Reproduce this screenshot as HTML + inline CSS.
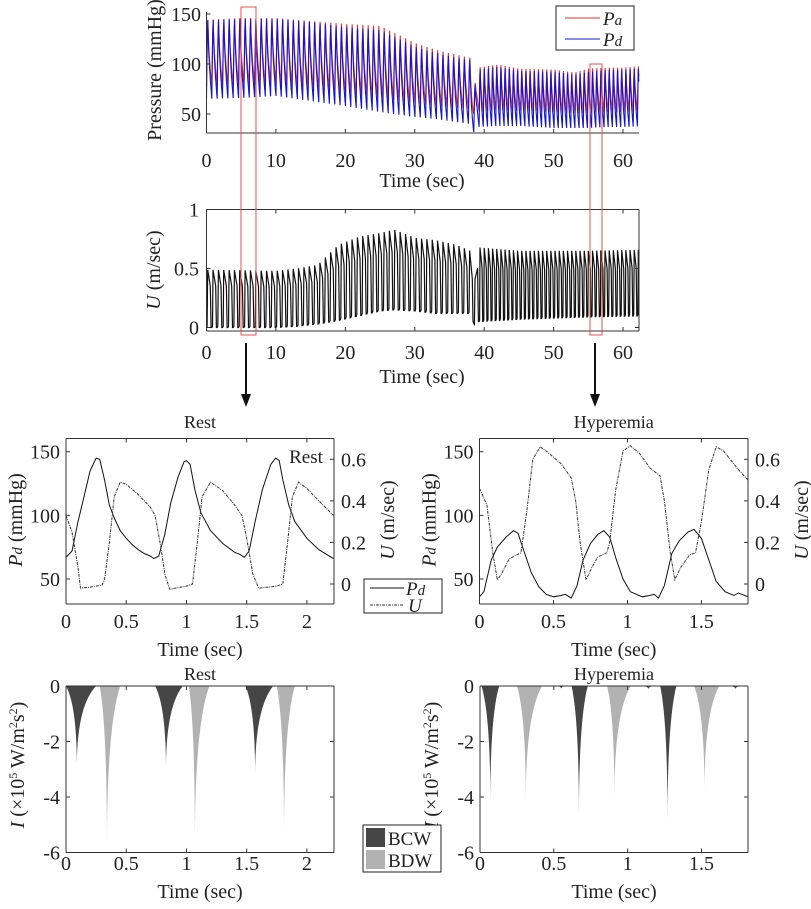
<!DOCTYPE html>
<html><head><meta charset="utf-8"><style>
html,body{margin:0;padding:0;background:#fff}
svg{display:block;font-family:"Liberation Serif",serif}
</style></head><body>
<svg id="fig" width="811" height="909" viewBox="0 0 811 909"></svg>
<script>
// ===== Overview data (envelopes) =====
const envTimes   = [0,5,10,15,20,25,28,30,33,36,38,38.5,39,42,45,50,53,55,58,60,63.5];
const pdPeaks    = [145,146,146,143,138,135,125,118,112,107,105,70,95,98,94,93,90,93,95,95,97];
const pdTroughs  = [65,66,68,63,58,52,49,47,45,42,40,32,37,38,38,36,36,36,37,37,38];
const paPeaks    = [145,147,147,144,141,139,129,122,115,110,107,72,97,100,96,95,92,96,97,97,99];
const paTroughs  = [78,79,80,76,71,66,63,61,58,56,55,50,52,54,53,52,51,51,52,52,53];
const uTimes     = [0,10,13,16,19,22,25,27,30,33,36,38,38.7,39,45,50,55,63.5];
const uPeaks     = [0.49,0.48,0.5,0.53,0.7,0.77,0.8,0.83,0.76,0.74,0.7,0.65,0.4,0.68,0.65,0.65,0.65,0.66];
const uTroughs   = [0.0,0.0,0.01,0.03,0.06,0.1,0.14,0.15,0.14,0.12,0.12,0.12,0.0,0.05,0.07,0.08,0.09,0.1];
const beatPeriods = [0.77,0.6]; // before / after 38.7 s
const overviewTicksX = [0,10,20,30,40,50,60];
const pressureTicks = [50,100,150];
const uOverviewTicks = [0,0.5,1];

// ===== Rest detail =====
const restT  = [0,0.05,0.1,0.15,0.2,0.25,0.28,0.32,0.36,0.4,0.45,0.5,0.55,0.6,0.65,0.7,0.73,0.77,0.82,0.87,0.93,0.98,1.0,1.03,1.07,1.12,1.2,1.3,1.4,1.45,1.48,1.52,1.57,1.63,1.7,1.74,1.77,1.8,1.85,1.9,2.0,2.1,2.22];
const restPd = [67,72,95,115,135,145,144,128,108,98,88,82,77,73,70,68,66,68,85,110,130,142,143,140,120,102,88,78,71,69,67,72,95,120,140,145,143,128,108,95,82,73,66];
const restUT = [0,0.05,0.1,0.12,0.2,0.3,0.32,0.36,0.4,0.45,0.5,0.6,0.7,0.74,0.78,0.82,0.86,1.0,1.05,1.09,1.13,1.2,1.3,1.4,1.46,1.5,1.55,1.6,1.75,1.8,1.84,1.88,1.93,2.0,2.1,2.22];
const restU  = [0.33,0.25,0.08,-0.02,-0.015,-0.005,0.02,0.2,0.42,0.49,0.48,0.43,0.37,0.33,0.2,0.05,-0.025,-0.01,0.0,0.2,0.42,0.49,0.45,0.38,0.33,0.22,0.05,-0.02,-0.01,0.0,0.2,0.42,0.49,0.46,0.4,0.33];
// ===== Hyperemia detail =====
const hypT  = [0,0.03,0.08,0.12,0.18,0.23,0.26,0.3,0.35,0.4,0.45,0.5,0.55,0.58,0.62,0.66,0.7,0.75,0.8,0.84,0.88,0.92,0.97,1.02,1.1,1.15,1.18,1.21,1.25,1.3,1.35,1.41,1.45,1.5,1.55,1.6,1.66,1.72,1.75,1.815];
const hypPd = [36,40,65,75,83,88,86,72,55,44,38,36,37,38,35,45,65,78,85,88,83,67,50,40,36,37,38,35,45,70,80,87,89,82,65,48,40,37,39,36];
const hypUT = [0,0.05,0.09,0.12,0.15,0.2,0.25,0.28,0.32,0.36,0.41,0.45,0.55,0.62,0.65,0.68,0.72,0.76,0.8,0.86,0.88,0.92,0.97,1.02,1.08,1.15,1.22,1.25,1.29,1.32,1.36,1.42,1.46,1.5,1.55,1.6,1.65,1.75,1.815];
const hypU  = [0.46,0.38,0.15,0.02,0.05,0.12,0.14,0.15,0.35,0.6,0.66,0.64,0.58,0.51,0.4,0.2,0.02,0.08,0.13,0.15,0.2,0.45,0.64,0.665,0.63,0.56,0.52,0.4,0.15,0.02,0.08,0.14,0.15,0.3,0.55,0.66,0.64,0.55,0.5];
const detailPdTicks = [50,100,150];
const detailUTicks = [0,0.2,0.4,0.6];
const restXTicks = [0,0.5,1,1.5,2];
const hypXTicks = [0,0.5,1,1.5];
// ===== Wave intensity: [start, minTime, end, minValue] =====
const restBCWstart=[0,0.74,1.49], restBCWmin=[0.09,0.83,1.57], restBCWend=[0.25,0.97,1.72], restBCWval=[-2.9,-3.0,-3.2];
const restBDWstart=[0.28,1.02,1.75], restBDWmin=[0.34,1.07,1.81], restBDWend=[0.45,1.19,1.9], restBDWval=[-5.8,-5.7,-5.45];
const hypBCWstart=[0.01,0.62,1.22,0.52,1.11,1.7], hypBCWmin=[0.07,0.67,1.27,0.55,1.14,1.73], hypBCWend=[0.13,0.73,1.33,0.58,1.17,1.76], hypBCWval=[-4.2,-4.75,-4.95,-0.1,-0.12,-0.12];
const hypBDWstart=[0.25,0.86,1.45], hypBDWmin=[0.31,0.91,1.52], hypBDWend=[0.42,1.02,1.62], hypBDWval=[-4.15,-4.05,-3.85];
const wiTicks = [0,-2,-4,-6];

const FS=20;
const NS="http://www.w3.org/2000/svg";
const svg=document.getElementById('fig');
function el(tag,attrs,parent){const e=document.createElementNS(NS,tag);for(const k in attrs)e.setAttribute(k,attrs[k]);(parent||svg).appendChild(e);return e;}
function txt(s,x,y,size,anchor,parent){const t=el('text',{x:x,y:y,'font-size':size,'text-anchor':anchor||'middle',fill:'#222'},parent);t.textContent=s;return t;}
function lin(a,b,c,d){return v=>c+(v-a)*(d-c)/(b-a);}
function interp(xs,ys,x){if(x<=xs[0])return ys[0];for(let i=1;i<xs.length;i++){if(x<=xs[i]){const f=(x-xs[i-1])/(xs[i]-xs[i-1]);return ys[i-1]+f*(ys[i]-ys[i-1]);}}return ys[ys.length-1];}
function axisLines(g,x0,x1,y0,y1,box){
  el('line',{x1:x0,y1:y0,x2:x0,y2:y1,stroke:'#333','stroke-width':1},g);
  el('line',{x1:x0,y1:y1,x2:x1,y2:y1,stroke:'#333','stroke-width':1},g);
  if(box){el('line',{x1:x1,y1:y0,x2:x1,y2:y1,stroke:'#333','stroke-width':1},g);el('line',{x1:x0,y1:y0,x2:x1,y2:y0,stroke:'#333','stroke-width':1},g);}
}

// ===== Top panel =====
(function(){
  const g=el('g',{});
  
  
  const X=lin(0,62.3,206.5,639), Y=lin(50,150,114,14);
  let pa='',pd='';
  let t=0;
  while(t<63.5){
    const per=t<38.7?beatPeriods[0]:beatPeriods[1];
    for(let k=0;k<=12;k++){
      const p=k/12, tt=t+p*per; if(tt>62.3)break;
      const sh=p<0.28?Math.sin(p/0.28*Math.PI/2):1-Math.pow((p-0.28)/0.72,0.55);
      const vd=interp(envTimes,pdTroughs,tt)+(interp(envTimes,pdPeaks,tt)-interp(envTimes,pdTroughs,tt))*sh;
      const va=interp(envTimes,paTroughs,tt)+(interp(envTimes,paPeaks,tt)-interp(envTimes,paTroughs,tt))*sh;
      pd+=(pd?'L':'M')+X(tt).toFixed(1)+','+Y(vd).toFixed(1);
      pa+=(pa?'L':'M')+X(tt).toFixed(1)+','+Y(va).toFixed(1);
    }
    t+=per;
  }
  const a=el('path',{d:pa,fill:'none',stroke:'#e8302c','stroke-width':1.1},g);
   
  const d=el('path',{d:pd,fill:'none',stroke:'#1414d0','stroke-width':1.1},g);
   
  axisLines(g,206.5,639,12,133,false);
  overviewTicksX.forEach(v=>{el('line',{x1:X(v),y1:133,x2:X(v),y2:129,stroke:'#333'},g);txt(String(v),X(v),167,FS,'middle',g);});
  pressureTicks.forEach(v=>{el('line',{x1:206.5,y1:Y(v),x2:210.5,y2:Y(v),stroke:'#333'},g);txt(String(v),201,Y(v)+7,FS,'end',g);});
  const xl=txt('Time (sec)',422,187,FS,'middle',g);  
  const yl=txt('Pressure (mmHg)',0,0,FS,'middle',g); yl.setAttribute('transform','translate(161,70) rotate(-90)');
   
  const lg=el('g',{},g);  
  el('rect',{x:556,y:6,width:78,height:44,fill:'#fff',stroke:'#222','stroke-width':1},lg);
  el('line',{x1:565,y1:18,x2:600,y2:18,stroke:'#e8302c'},lg);
  el('line',{x1:565,y1:39,x2:600,y2:39,stroke:'#1414d0'},lg);
  const t1=txt('',603,25,19,'start',lg); t1.innerHTML='<tspan font-style="italic">P</tspan><tspan font-style="italic" font-size="15">a</tspan>';
  const t2=txt('',603,46,19,'start',lg); t2.innerHTML='<tspan font-style="italic">P</tspan><tspan font-style="italic" font-size="15">d</tspan>';
})();

// ===== Middle panel =====
(function(){
  const g=el('g',{});
  
  
  const X=lin(0,62.3,206.5,639), Y=lin(0,1,327.5,209.5);
  let p='',t=0;
  while(t<63.5){
    const per=t<38.7?beatPeriods[0]:beatPeriods[1];
    const pts=[[0,0],[0.12,0.02],[0.22,1],[0.72,0.72],[0.86,0]];
    for(const q of pts){const tt=t+q[0]*per; if(tt>62.3)break;
      const lo=interp(uTimes,uTroughs,tt),hi=interp(uTimes,uPeaks,tt);
      p+=(p?'L':'M')+X(tt).toFixed(1)+','+Y(lo+(hi-lo)*q[1]).toFixed(1);}
    t+=per;
  }
  const s=el('path',{d:p,fill:'none',stroke:'#111','stroke-width':1.2},g);
   
  axisLines(g,206.5,639,209.5,331,true);
  overviewTicksX.forEach(v=>{el('line',{x1:X(v),y1:331,x2:X(v),y2:327,stroke:'#333'},g);el('line',{x1:X(v),y1:209.5,x2:X(v),y2:213.5,stroke:'#333'},g);txt(String(v),X(v),359,FS,'middle',g);});
  uOverviewTicks.forEach(v=>{el('line',{x1:206.5,y1:Y(v),x2:210.5,y2:Y(v),stroke:'#333'},g);el('line',{x1:639,y1:Y(v),x2:635,y2:Y(v),stroke:'#333'},g);txt(String(v),199,Y(v)+7,FS,'end',g);});
  const xl=txt('Time (sec)',422,383,FS,'middle',g);  
  const yl=txt('',0,0,FS,'middle',g); yl.innerHTML='<tspan font-style="italic">U</tspan> (m/sec)'; yl.setAttribute('transform','translate(160,270) rotate(-90)');
   
})();

// red zoom boxes & arrows
(function(){
  const r1=el('rect',{x:241,y:7,width:15,height:328,fill:'none',stroke:'#e8504c','stroke-width':1});
   
  const r2=el('rect',{x:590,y:64,width:12,height:271,fill:'none',stroke:'#e8504c','stroke-width':1});
   
  [[246,'rest-arrow'],[595,'hyperemia-arrow']].forEach(a=>{
    const g=el('g',{});  
    el('line',{x1:a[0],y1:343,x2:a[0],y2:396,stroke:'#111','stroke-width':2},g);
    el('polygon',{points:(a[0]-5)+',394 '+(a[0]+5)+',394 '+a[0]+',407',fill:'#111'},g);
  });
})();

// ===== Detail panels =====
function detail(name,x0,x1,xmax,ts,pdv,uts,uv,xticks,title,inner){
  const g=el('g',{});  
  const y0=438.5,y1=604;
  const X=lin(0,xmax,x0,x1), Y=lin(50,150,579,451.7), YU=lin(0,0.6,584,459.3);
  const cp=el('clipPath',{id:name+'c'},g); el('rect',{x:x0,y:y0,width:x1-x0,height:y1-y0},cp);
  const pg=el('g',{'clip-path':'url(#'+name+'c)'},g);
  let p='';ts.forEach((t,i)=>p+=(i?'L':'M')+X(t).toFixed(1)+','+Y(pdv[i]).toFixed(1));
  const a=el('path',{d:p,fill:'none',stroke:'#111','stroke-width':1},pg);  
  let q='';uts.forEach((t,i)=>q+=(i?'L':'M')+X(t).toFixed(1)+','+YU(uv[i]).toFixed(1));
  const b=el('path',{d:q,fill:'none',stroke:'#333','stroke-width':1,'stroke-dasharray':'3,1,1,1'},pg);  
  axisLines(g,x0,x1,y0,y1,true);
  xticks.forEach(v=>{el('line',{x1:X(v),y1:y1,x2:X(v),y2:y1-4,stroke:'#333'},g);el('line',{x1:X(v),y1:y0,x2:X(v),y2:y0+4,stroke:'#333'},g);txt(String(v),X(v),628,FS,'middle',g);});
  detailPdTicks.forEach(v=>{el('line',{x1:x0,y1:Y(v),x2:x0+4,y2:Y(v),stroke:'#333'},g);txt(String(v),x0-6,Y(v)+7,FS,'end',g);});
  detailUTicks.forEach(v=>{el('line',{x1:x1,y1:YU(v),x2:x1-4,y2:YU(v),stroke:'#333'},g);txt(String(v),x1+7,YU(v)+7,FS,'start',g);});
  txt('Time (sec)',(x0+x1)/2,656,FS,'middle',g);
  const tt=txt(title,(x0+x1)/2,428,18,'middle',g);  
  if(inner) txt(inner,x1-28,463,19,'middle',g);
  const yl=txt('',0,0,FS,'middle',g); yl.innerHTML='<tspan font-style="italic">P</tspan><tspan font-style="italic" font-size="15">d</tspan> (mmHg)'; yl.setAttribute('transform','translate('+(x0-44)+',520) rotate(-90)');
  const yr=txt('',0,0,FS,'middle',g); yr.innerHTML='<tspan font-style="italic">U</tspan> (m/sec)'; yr.setAttribute('transform','translate('+(x1+60)+',520) rotate(-90)');
}
detail('rest-chart',66,334,2.225,restT,restPd,restUT,restU,restXTicks,'Rest','Rest');
detail('hyperemia-chart',479.5,748,1.815,hypT,hypPd,hypUT,hypU,hypXTicks,'Hyperemia',null);

// legend Pd/U
(function(){
  const g=el('g',{});  
  el('rect',{x:364,y:579,width:78,height:34,fill:'#fff',stroke:'#222'},g);
  el('line',{x1:370,y1:588,x2:404,y2:588,stroke:'#111'},g);
  el('line',{x1:370,y1:605,x2:404,y2:605,stroke:'#333','stroke-dasharray':'3,1,1,1'},g);
  const a=txt('',406,595,19,'start',g); a.innerHTML='<tspan font-style="italic">P</tspan><tspan font-style="italic" font-size="15">d</tspan>';
  const b=txt('',408,612,19,'start',g); b.innerHTML='<tspan font-style="italic">U</tspan>';
})();

// ===== Wave intensity panels =====
function wi(name,x0,x1,xmax,sets,xticks,title){
  const g=el('g',{});  
  const y0=686,y1=852.5;
  const X=lin(0,xmax,x0,x1), Y=lin(0,-6,y0,y1);
  sets.forEach(s=>{
    s.st.forEach((st,i)=>{
      const m=s.mn[i],en=s.en[i],v=s.val[i];
      const d='M'+X(st)+','+Y(0)+' Q'+X(m)+','+Y(v*0.25)+' '+X(m)+','+Y(v)+' Q'+X(m)+','+Y(v*0.25)+' '+X(en)+','+Y(0)+'Z';
      const p=el('path',{d:d,fill:s.color},g);
       
    });
  });
  axisLines(g,x0,x1,y0,y1,true);
  xticks.forEach(v=>{el('line',{x1:X(v),y1:y1,x2:X(v),y2:y1-4,stroke:'#333'},g);el('line',{x1:X(v),y1:y0,x2:X(v),y2:y0+4,stroke:'#333'},g);txt(String(v),X(v),870,FS,'middle',g);});
  wiTicks.forEach(v=>{el('line',{x1:x0,y1:Y(v),x2:x0+4,y2:Y(v),stroke:'#333'},g);el('line',{x1:x1,y1:Y(v),x2:x1-4,y2:Y(v),stroke:'#333'},g);txt(String(v),x0-6,Y(v)+7,FS,'end',g);});
  txt('Time (sec)',(x0+x1)/2,898,FS,'middle',g);
  const tt=txt(title,(x0+x1)/2,680,18,'middle',g);  
  const yl=txt('',0,0,FS,'middle',g); yl.innerHTML='<tspan font-style="italic">I</tspan> (×10<tspan font-size="12" dy="-7">5</tspan><tspan dy="7"> W/m</tspan><tspan font-size="12" dy="-7">2</tspan><tspan dy="7">s</tspan><tspan font-size="12" dy="-7">2</tspan><tspan dy="7">)</tspan>';
  yl.setAttribute('transform','translate('+(x0-42)+',765) rotate(-90)');
}
wi('rest-intensity-chart',66,334,2.225,[
  {st:restBCWstart,mn:restBCWmin,en:restBCWend,val:restBCWval,color:'#464646',label:'bcw'},
  {st:restBDWstart,mn:restBDWmin,en:restBDWend,val:restBDWval,color:'#b2b2b2',label:'bdw'}],restXTicks,'Rest');
wi('hyperemia-intensity-chart',480,748,1.815,[
  {st:hypBCWstart,mn:hypBCWmin,en:hypBCWend,val:hypBCWval,color:'#464646',label:'bcw'},
  {st:hypBDWstart,mn:hypBDWmin,en:hypBDWend,val:hypBDWval,color:'#b2b2b2',label:'bdw'}],hypXTicks,'Hyperemia');

(function(){
  const g=el('g',{});  
  el('rect',{x:363,y:825,width:78,height:47,fill:'#fff',stroke:'#222'},g);
  el('rect',{x:366,y:828,width:19,height:19,fill:'#464646'},g);
  el('rect',{x:366,y:850,width:19,height:19,fill:'#b2b2b2'},g);
  txt('BCW',388,845,19,'start',g);
  txt('BDW',388,867,19,'start',g);
})();
</script>
</body></html>
